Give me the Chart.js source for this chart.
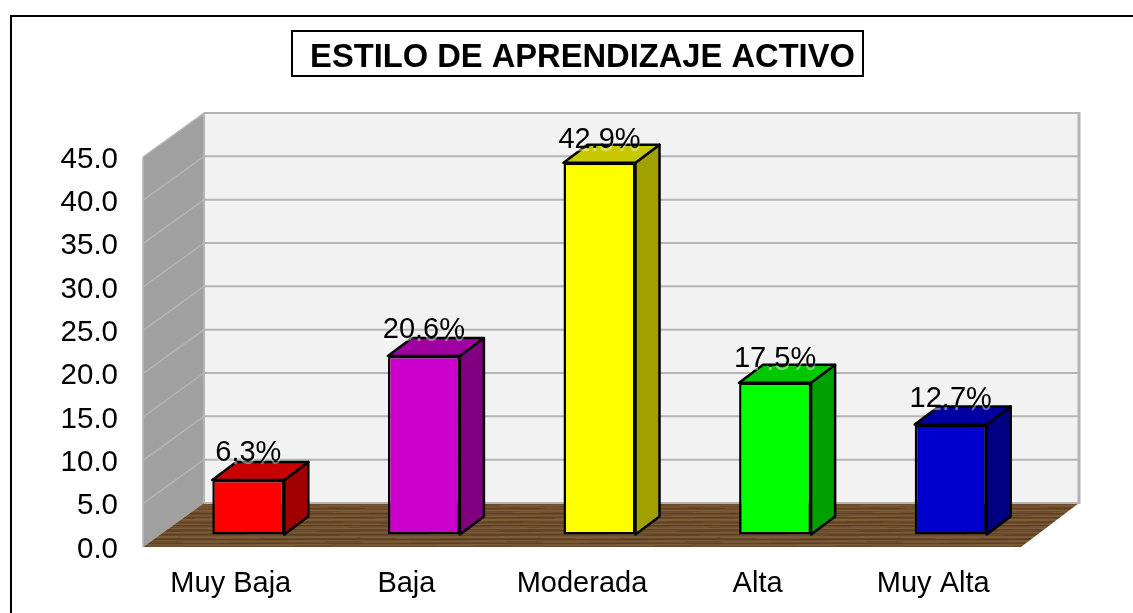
<!DOCTYPE html>
<html>
<head>
<meta charset="utf-8">
<title>Estilo de aprendizaje activo</title>
<script src="https://cdn.jsdelivr.net/npm/chart.js@4/dist/chart.umd.min.js"></script>
<style>
    html, body { margin: 0; padding: 0; background: #fff; overflow: hidden; }
    canvas { display: block; }
</style>
</head>
<body>
<canvas id="myChart" width="1133" height="613"></canvas>
<script>
const chartTitle = 'ESTILO DE APRENDIZAJE ACTIVO';
const categories = ['Muy Baja', 'Baja', 'Moderada', 'Alta', 'Muy Alta'];
const values = [6.3, 20.6, 42.9, 17.5, 12.7];
const frontColors = ['#FF0000', '#CC00CC', '#FFFF00', '#00FF00', '#0000CC'];
const topColors = ['#C80000', '#A000A0', '#C8C800', '#00C800', '#0000A0'];
const sideColors = ['#A00000', '#800080', '#A0A000', '#00A000', '#000080'];

// colores de la madera, una fila por pixel del piso
const woodRows = ['#7B5A38', '#6E4C2B', '#7A5A36', '#6A4A2A', '#74522F', '#5F4126', '#6C4A2A', '#7D5B36',
    '#77552F', '#6E5030', '#5E4024', '#6A4829', '#7A5732', '#735230', '#5F4227', '#684628',
    '#80603A', '#785632', '#6C4C2C', '#624327', '#6F4D2C', '#7C5A34', '#5C3F24', '#6B4929',
    '#765430', '#7F5D37', '#66482A', '#60422A', '#6D4B2B', '#7A5B38', '#71502E', '#5D4026',
    '#6B4A2A', '#785836', '#7E5F3B', '#654629', '#5C3E24', '#70502F', '#7B5B37', '#6A4B2C',
    '#604328', '#735431', '#7C5E3A', '#68492B'];
const woodLight = '#86693F';
const woodDark = '#4F3620';
// cuanto sube cada rotulo sobre su barra
const labelLift = [19, 18, 15, 16, 17];

const FONT = '"Liberation Sans", Arial, sans-serif';
const WALL_DX = 61, WALL_DY = -44;   // fondo del grafico
const WALL_RIGHT_DX = 58;
const BAR_DX = 17.5, BAR_DY = -12.5; // donde se apoya la barra en el piso
const BAR_DEPTH_X = 24, BAR_DEPTH_Y = -18;

function poly(ctx, pts, fill, stroke, lineWidth) {
    ctx.beginPath();
    pts.forEach((p, i) => i === 0 ? ctx.moveTo(p[0], p[1]) : ctx.lineTo(p[0], p[1]));
    ctx.closePath();
    if (fill) { ctx.fillStyle = fill; ctx.fill(); }
    if (stroke) { ctx.strokeStyle = stroke; ctx.lineWidth = lineWidth; ctx.lineJoin = 'round'; ctx.stroke(); }
}

function line(ctx, x1, y1, x2, y2, color, width) {
    ctx.beginPath();
    ctx.moveTo(x1, y1);
    ctx.lineTo(x2, y2);
    ctx.strokeStyle = color;
    ctx.lineWidth = width;
    ctx.stroke();
}

function woodPattern(ctx) {
    const c = document.createElement('canvas');
    c.width = 180;
    c.height = woodRows.length;
    const w = c.getContext('2d');
    woodRows.forEach((color, i) => {
        w.fillStyle = color;
        w.fillRect(0, i, 180, 1);
    });
    // vetas cortas para que no quede a rayas parejas
    w.globalAlpha = 0.35;
    woodRows.forEach((color, i) => {
        w.fillStyle = i % 2 ? woodLight : woodDark;
        w.fillRect((i * 37) % 180, i, 40 + (i * 13) % 50, 1);
    });
    w.globalAlpha = 1;
    return ctx.createPattern(c, 'repeat');
}

const box3d = {
    id: 'box3d',
    beforeDraw(chart) {
        // los numeros del eje van un poco mas abajo que la linea
        const items = chart.scales.y.getLabelItems();
        if (!items.moved) {
            items.forEach(item => { item.options.translation[1] += 2.5; });
            items.moved = true;
        }
    },
    beforeDatasetsDraw(chart) {
        const { ctx, chartArea: a, scales: { y } } = chart;
        const l = a.left, r = a.right, t = a.top, b = a.bottom;
        const backL = l + WALL_DX, backR = r + WALL_RIGHT_DX;
        const backT = t + WALL_DY, backB = b + WALL_DY;
        ctx.save();
        // pared lateral
        poly(ctx, [[l, t], [backL, backT], [backL, backB], [l, b]], '#A0A0A0');
        // pared del fondo
        poly(ctx, [[backL, backT], [backR, backT], [backR, backB], [backL, backB]], '#F2F2F2');
        // piso
        ctx.save();
        ctx.translate(0, backB);
        poly(ctx, [[l, b - backB], [backL, 0], [backR, 0], [r, b - backB]], woodPattern(ctx));
        ctx.restore();
        // lineas de division
        y.ticks.forEach(tick => {
            const py = y.getPixelForValue(tick.value);
            if (tick.value > 0) line(ctx, l, py, backL, py + WALL_DY, '#B6B6B6', 1.5);
            line(ctx, backL, py + WALL_DY, backR, py + WALL_DY, '#B4B4B4', 2);
        });
        line(ctx, l, t, l, b, '#B6B6B6', 1.5);
        line(ctx, backL, backT, backL, backB, '#B4B4B4', 2);
        line(ctx, backR, backT - 1, backR, backB + 1, '#B4B4B4', 3);
        // caras de arriba y del costado de cada barra
        chart.getDatasetMeta(0).data.forEach((bar, i) => {
            const x1 = bar.x - bar.width / 2 + BAR_DX, x2 = bar.x + bar.width / 2 + BAR_DX;
            const yt = bar.y + BAR_DY, yb = bar.base + BAR_DY;
            poly(ctx, [[x2, yt], [x2 + BAR_DEPTH_X, yt + BAR_DEPTH_Y], [x2 + BAR_DEPTH_X, yb + BAR_DEPTH_Y], [x2, yb]], sideColors[i], '#000', 2.5);
            poly(ctx, [[x1, yt], [x1 + BAR_DEPTH_X, yt + BAR_DEPTH_Y], [x2 + BAR_DEPTH_X, yt + BAR_DEPTH_Y], [x2, yt]], topColors[i], '#000', 2.5);
        });
        ctx.restore();
        // la cara frontal la dibuja chart.js, corrida hacia el fondo
        ctx.save();
        ctx.translate(BAR_DX, BAR_DY);
    },
    afterDatasetsDraw(chart) {
        const { ctx } = chart;
        ctx.restore();
        ctx.save();
        ctx.font = '29px ' + FONT;
        ctx.fillStyle = '#000';
        ctx.textAlign = 'center';
        ctx.textBaseline = 'alphabetic';
        ctx.shadowColor = 'rgba(255,255,255,0.5)';
        ctx.shadowOffsetY = 3;
        ctx.shadowBlur = 1;
        chart.getDatasetMeta(0).data.forEach((bar, i) => {
            ctx.fillText(values[i].toFixed(1) + '%', bar.x + BAR_DX, bar.y + BAR_DY - labelLift[i]);
        });
        ctx.restore();
    },
    afterDraw(chart) {
        const { ctx } = chart;
        ctx.save();
        // marco
        line(ctx, 11, 16, 1133, 16, '#000', 2);
        line(ctx, 11, 15, 11, 613, '#000', 2);
        // titulo
        ctx.strokeStyle = '#000';
        ctx.lineWidth = 2;
        ctx.strokeRect(292, 31, 571, 45);
        ctx.font = 'bold 32.7px ' + FONT;
        ctx.fillStyle = '#000';
        ctx.textAlign = 'center';
        ctx.textBaseline = 'alphabetic';
        ctx.fillText(chartTitle, 582.5, 67);
        ctx.restore();
    }
};

new Chart('myChart', {
    type: 'bar',
    data: {
        labels: categories,
        datasets: [{
            data: values,
            backgroundColor: frontColors,
            borderColor: '#000',
            borderWidth: 2.5,
            borderSkipped: false,
            barPercentage: 0.41,
            categoryPercentage: 1
        }]
    },
    options: {
        responsive: false,
        animation: false,
        layout: { padding: { top: 157, right: 112, bottom: 0, left: 0 } },
        plugins: {
            legend: { display: false },
            tooltip: { enabled: false }
        },
        scales: {
            x: {
                grid: { display: false },
                border: { display: false },
                ticks: { color: '#000', font: { family: FONT, size: 29 }, padding: 12, maxRotation: 0 },
                afterFit(scale) { scale.height = 66; }
            },
            y: {
                min: 0,
                max: 45,
                grid: { display: false },
                border: { display: false },
                ticks: {
                    stepSize: 5,
                    color: '#000',
                    font: { family: FONT, size: 29.5 },
                    padding: 17,
                    callback: v => v.toFixed(1)
                },
                afterFit(scale) { scale.width = 143; }
            }
        }
    },
    plugins: [box3d]
});
</script>
</body>
</html>
